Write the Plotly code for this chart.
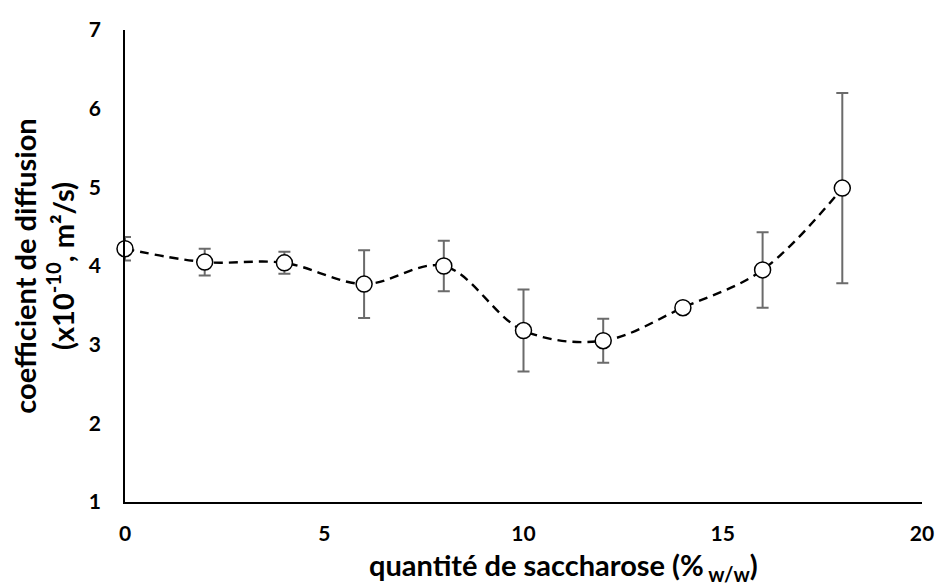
import plotly.graph_objects as go

# Sucrose content (% w/w) and measured diffusion coefficient (x1e-10 m²/s)
saccharose = [0, 2, 4, 6, 8, 10, 12, 14, 16, 18]
diffusion = [4.22, 4.05, 4.04, 3.77, 4.00, 3.18, 3.05, 3.47, 3.95, 4.99]
ecart_type = [0.15, 0.17, 0.14, 0.43, 0.32, 0.52, 0.28, 0.0, 0.48, 1.21]

x_ticks = [0, 5, 10, 15, 20]
y_ticks = [1, 2, 3, 4, 5, 6, 7]

FONT = "Lato"

fig = go.Figure()
fig.add_trace(go.Scatter(
    x=saccharose,
    y=diffusion,
    mode="lines+markers",
    line=dict(color="black", width=2.4, dash="9px,6px", shape="spline", smoothing=1.0),
    marker=dict(size=16, color="white", line=dict(color="black", width=1.5)),
    error_y=dict(type="data", array=ecart_type, visible=True,
                 color="#6b6b6b", thickness=2, width=6),
    cliponaxis=False,
    showlegend=False,
))

# x-axis title, placed slightly right of the plot-area centre
fig.add_annotation(
    text="<b>quantité de saccharose (%<sub> w/w</sub>)</b>",
    xref="paper", yref="paper", x=0.55, y=-0.137,
    xanchor="center", yanchor="middle", showarrow=False,
    font=dict(family=FONT, size=29, color="black"),
)

fig.update_layout(
    width=946, height=586,
    margin=dict(l=125, r=17, t=30, b=84),
    plot_bgcolor="white", paper_bgcolor="white",
    font=dict(family=FONT, color="black"),
    xaxis=dict(
        range=[0, 20], tickvals=x_ticks, ticktext=[f"<b>{v}</b>" for v in x_ticks],
        showline=True, linecolor="black", linewidth=1.6,
        showgrid=False, zeroline=False, ticks="",
        ticklabelstandoff=12,
        tickfont=dict(family=FONT, size=21, color="black"),
    ),
    yaxis=dict(
        range=[1, 7], tickvals=y_ticks, ticktext=[f"<b>{v}</b>" for v in y_ticks],
        showline=True, linecolor="black", linewidth=1.6,
        showgrid=False, zeroline=False, ticks="",
        ticklabelstandoff=18,
        tickfont=dict(family=FONT, size=21, color="black"),
        title=dict(text="<b>coefficient de diffusion<br>(x10<sup>-10</sup>, m²/s)</b>",
                   font=dict(family=FONT, size=29, color="black"),
                   standoff=6),
    ),
)

fig.write_html("out.html")
